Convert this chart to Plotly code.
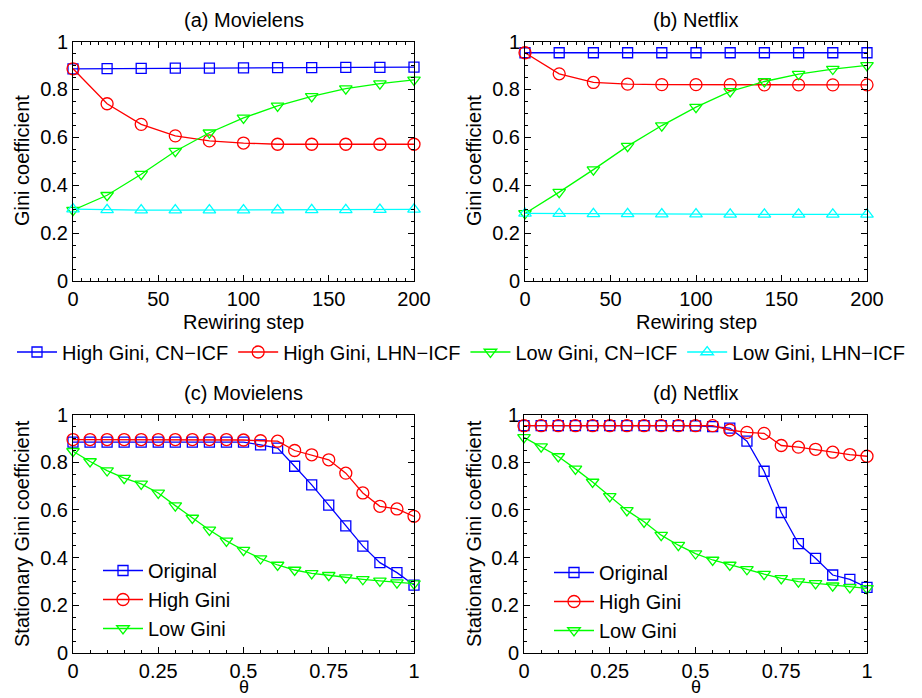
import plotly.graph_objects as go

# ---------------- data ----------------
steps = [0, 20, 40, 60, 80, 100, 120, 140, 160, 180, 200]

ml_high_cn = [0.886, 0.887, 0.888, 0.889, 0.889, 0.890, 0.891, 0.891, 0.892, 0.892, 0.893]
ml_high_lhn = [0.886, 0.740, 0.654, 0.606, 0.585, 0.576, 0.571, 0.571, 0.571, 0.571, 0.571]
ml_low_cn = [0.296, 0.358, 0.446, 0.542, 0.619, 0.681, 0.731, 0.771, 0.803, 0.824, 0.840]
ml_low_lhn = [0.300, 0.297, 0.296, 0.296, 0.296, 0.296, 0.296, 0.297, 0.297, 0.298, 0.299]

nf_high_cn = [0.953, 0.953, 0.953, 0.953, 0.953, 0.953, 0.953, 0.953, 0.953, 0.953, 0.953]
nf_high_lhn = [0.953, 0.865, 0.829, 0.822, 0.820, 0.820, 0.820, 0.819, 0.819, 0.819, 0.819]
nf_low_cn = [0.282, 0.371, 0.465, 0.563, 0.649, 0.726, 0.792, 0.833, 0.864, 0.885, 0.900]
nf_low_lhn = [0.282, 0.281, 0.280, 0.280, 0.279, 0.279, 0.278, 0.278, 0.278, 0.278, 0.278]

theta = [0, 0.05, 0.1, 0.15, 0.2, 0.25, 0.3, 0.35, 0.4, 0.45, 0.5,
         0.55, 0.6, 0.65, 0.7, 0.75, 0.8, 0.85, 0.9, 0.95, 1.0]

ml_original = [0.884, 0.884, 0.884, 0.884, 0.884, 0.884, 0.884, 0.884, 0.884, 0.884, 0.884,
               0.873, 0.859, 0.783, 0.705, 0.620, 0.533, 0.448, 0.379, 0.337, 0.285]
ml_high = [0.895, 0.895, 0.895, 0.895, 0.895, 0.895, 0.895, 0.895, 0.895, 0.895, 0.893,
           0.890, 0.888, 0.849, 0.831, 0.810, 0.754, 0.671, 0.615, 0.604, 0.573]
ml_low = [0.846, 0.803, 0.765, 0.733, 0.709, 0.671, 0.618, 0.566, 0.516, 0.470, 0.431,
          0.396, 0.369, 0.348, 0.334, 0.326, 0.316, 0.309, 0.302, 0.295, 0.291]

nf_original = [0.953, 0.953, 0.953, 0.953, 0.953, 0.953, 0.953, 0.953, 0.953, 0.953, 0.952,
               0.949, 0.943, 0.888, 0.762, 0.589, 0.459, 0.397, 0.327, 0.309, 0.275]
nf_high = [0.953, 0.953, 0.953, 0.953, 0.953, 0.953, 0.953, 0.953, 0.953, 0.953, 0.953,
           0.953, 0.935, 0.925, 0.921, 0.870, 0.863, 0.854, 0.842, 0.832, 0.825]
nf_low = [0.904, 0.865, 0.824, 0.772, 0.717, 0.657, 0.598, 0.550, 0.494, 0.452, 0.417,
          0.390, 0.369, 0.351, 0.331, 0.313, 0.299, 0.292, 0.282, 0.275, 0.271]

step_ticks = [0, 50, 100, 150, 200]
step_ticktext = ["0", "50", "100", "150", "200"]
theta_ticks = [0, 0.25, 0.5, 0.75, 1]
theta_ticktext = ["0", "0.25", "0.5", "0.75", "1"]
gini_ticks = [0, 0.2, 0.4, 0.6, 0.8, 1]
gini_ticktext = ["0", "0.2", "0.4", "0.6", "0.8", "1"]

top_names = ["High Gini, CN\u2212ICF", "High Gini, LHN\u2212ICF",
             "Low Gini, CN\u2212ICF", "Low Gini, LHN\u2212ICF"]
bottom_names = ["Original", "High Gini", "Low Gini"]

# ---------------- styling ----------------
FONT = "Liberation Sans, Arial, Helvetica, sans-serif"
FS = 20
BLUE, RED, GREEN, CYAN = "#0000ff", "#ff0000", "#00ff00", "#00ffff"
top_styles = [(BLUE, "square-open", 10), (RED, "circle-open", 12),
              (GREEN, "triangle-down-open", 11), (CYAN, "triangle-up-open", 11)]
bottom_styles = [(BLUE, "square-open", 10), (RED, "circle-open", 12),
                 (GREEN, "triangle-down-open", 11)]

fig = go.Figure()

top_series = [
    ("x", "y", steps, [ml_high_cn, ml_high_lhn, ml_low_cn, ml_low_lhn], True),
    ("x2", "y2", steps, [nf_high_cn, nf_high_lhn, nf_low_cn, nf_low_lhn], False),
]
for xa, ya, xs, series, show in top_series:
    for name, ys, (col, sym, sz) in zip(top_names, series, top_styles):
        fig.add_trace(go.Scatter(
            x=xs, y=ys, xaxis=xa, yaxis=ya, name=name, legendgroup=name,
            showlegend=show, legend="legend", mode="lines+markers",
            cliponaxis=False,
            line=dict(color=col, width=1.3),
            marker=dict(symbol=sym, size=sz, color=col, line=dict(color=col, width=1.3)),
        ))

bottom_series = [
    ("x3", "y3", "legend2", [ml_original, ml_high, ml_low]),
    ("x4", "y4", "legend3", [nf_original, nf_high, nf_low]),
]
for xa, ya, leg, series in bottom_series:
    for name, ys, (col, sym, sz) in zip(bottom_names, series, bottom_styles):
        fig.add_trace(go.Scatter(
            x=theta, y=ys, xaxis=xa, yaxis=ya, name=name, legend=leg,
            mode="lines+markers", cliponaxis=False,
            line=dict(color=col, width=1.3),
            marker=dict(symbol=sym, size=sz, color=col, line=dict(color=col, width=1.3)),
        ))

W, H = 922, 698
def px_x(v):
    return v / W
def px_y(v):
    return 1 - v / H

axis_common = dict(
    showgrid=False, zeroline=False, showline=True, linecolor="black", linewidth=1,
    mirror="ticks", ticks="inside", ticklen=6, tickcolor="black", tickwidth=1,
    tickfont=dict(family=FONT, size=FS, color="black"), automargin=False,
)

def xaxis(dom, anchor, rng, tv, tt, minor_dt):
    return dict(axis_common, domain=dom, anchor=anchor, range=rng,
                tickvals=tv, ticktext=tt,
                minor=dict(ticks="inside", ticklen=3, dtick=minor_dt, tickcolor="black", showgrid=False))

def yaxis(dom, anchor):
    return dict(axis_common, domain=dom, anchor=anchor, range=[0, 1],
                tickvals=gini_ticks, ticktext=gini_ticktext,
                minor=dict(ticks="inside", ticklen=3, dtick=0.05, tickcolor="black", showgrid=False))

xa_dom = [px_x(73), px_x(414)]
xb_dom = [px_x(525), px_x(867)]
xd_dom = [px_x(524), px_x(867)]
top_dom = [px_y(281), px_y(41.5)]
bot_dom = [px_y(653), px_y(414.5)]

ann = []
def text(s, x, y, angle=0, size=FS):
    ann.append(dict(text=s, x=px_x(x), y=px_y(y), xref="paper", yref="paper",
                    showarrow=False, xanchor="center", yanchor="middle", textangle=angle,
                    font=dict(family=FONT, size=size, color="black")))

text("(a) Movielens", 243.5, 20)
text("(b) Netflix", 696, 20)
text("(c) Movielens", 243.5, 393)
text("(d) Netflix", 696, 393)
text("Rewiring step", 243.5, 322)
text("Rewiring step", 696, 322)
text("\u03b8", 243.5, 687, size=18)
text("\u03b8", 696, 687, size=18)
text("Gini coefficient", 22, 161, -90)
text("Gini coefficient", 474, 161, -90)
text("Stationary Gini coefficient", 22, 534, -90)
text("Stationary Gini coefficient", 474, 534, -90)

leg_font = dict(family=FONT, size=FS, color="black")
fig.update_layout(
    width=W, height=H,
    margin=dict(l=0, r=0, t=0, b=0),
    paper_bgcolor="white", plot_bgcolor="white",
    font=dict(family=FONT, size=FS, color="black"),
    xaxis=xaxis(xa_dom, "y", [0, 200], step_ticks, step_ticktext, 5),
    yaxis=yaxis(top_dom, "x"),
    xaxis2=xaxis(xb_dom, "y2", [0, 200], step_ticks, step_ticktext, 5),
    yaxis2=yaxis(top_dom, "x2"),
    xaxis3=xaxis(xa_dom, "y3", [0, 1], theta_ticks, theta_ticktext, 0.05),
    yaxis3=yaxis(bot_dom, "x3"),
    xaxis4=xaxis(xd_dom, "y4", [0, 1], theta_ticks, theta_ticktext, 0.05),
    yaxis4=yaxis(bot_dom, "x4"),
    legend=dict(orientation="h", x=0.5, xanchor="center", y=px_y(352), yanchor="middle",
                font=leg_font, bgcolor="rgba(0,0,0,0)", borderwidth=0, itemwidth=40),
    legend2=dict(x=px_x(98), xanchor="left", y=px_y(551), yanchor="top",
                 font=leg_font, bgcolor="rgba(0,0,0,0)", borderwidth=0, itemwidth=40),
    legend3=dict(x=px_x(549), xanchor="left", y=px_y(553), yanchor="top",
                 font=leg_font, bgcolor="rgba(0,0,0,0)", borderwidth=0, itemwidth=40),
    annotations=ann,
    showlegend=True,
)

fig.write_html("out.html",
               config={"displayModeBar": False},
               post_script="document.body.style.margin='0';document.body.style.padding='0';"
                           "document.documentElement.style.overflow='hidden';")
